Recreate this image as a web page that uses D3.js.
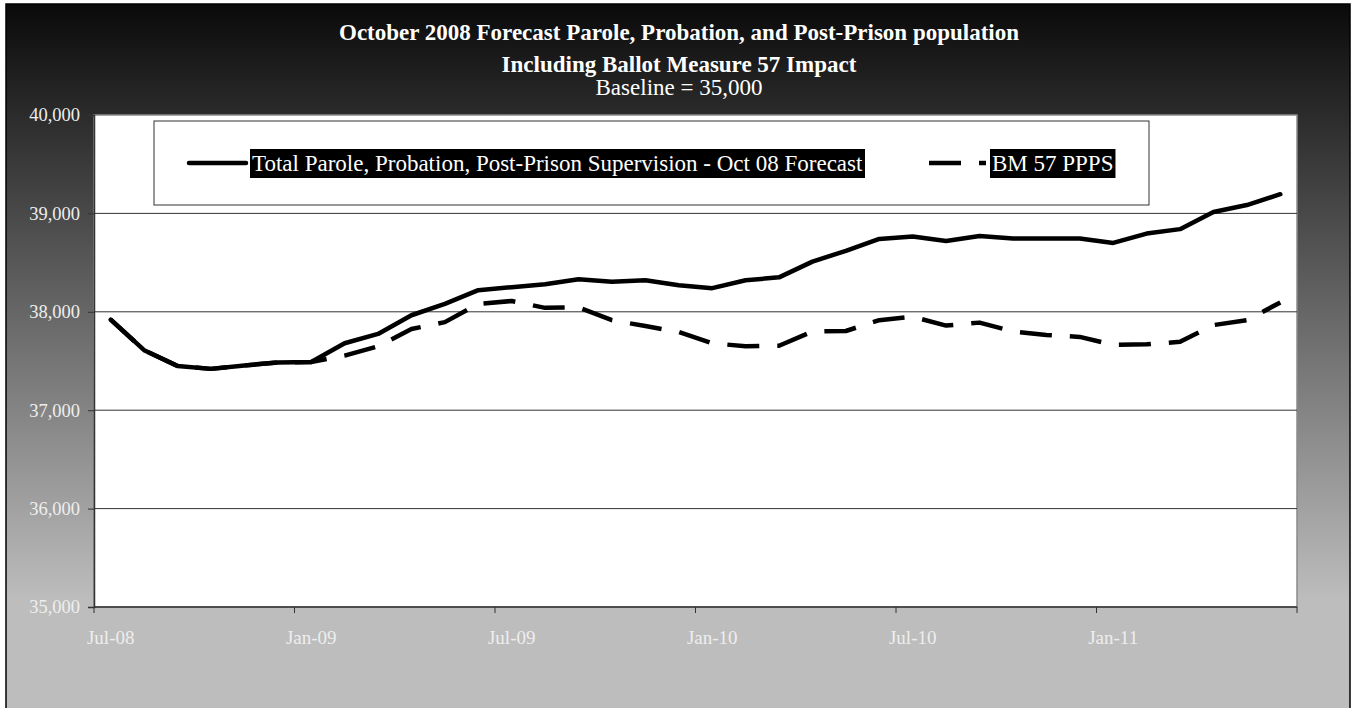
<!DOCTYPE html>
<html>
<head>
<meta charset="utf-8">
<script src="https://cdn.jsdelivr.net/npm/d3@7"></script>
<style>
  html, body { margin: 0; padding: 0; background: #ffffff; }
  svg { display: block; }
  svg text { font-family: "Liberation Serif", "Times New Roman", serif !important; }
</style>
</head>
<body>
<svg id="chart" width="1353" height="708"></svg>
<script>
// Monthly categories, Jul-08 through Jun-11
const months = [
  "Jul-08","Aug-08","Sep-08","Oct-08","Nov-08","Dec-08",
  "Jan-09","Feb-09","Mar-09","Apr-09","May-09","Jun-09",
  "Jul-09","Aug-09","Sep-09","Oct-09","Nov-09","Dec-09",
  "Jan-10","Feb-10","Mar-10","Apr-10","May-10","Jun-10",
  "Jul-10","Aug-10","Sep-10","Oct-10","Nov-10","Dec-10",
  "Jan-11","Feb-11","Mar-11","Apr-11","May-11","Jun-11"
];

// Total Parole, Probation, Post-Prison Supervision - Oct 08 Forecast
const totalForecast = [
  37920, 37610, 37450, 37420, 37455, 37485,
  37490, 37680, 37775, 37965, 38080, 38220,
  38250, 38280, 38330, 38305, 38320, 38270,
  38240, 38320, 38350, 38510, 38620, 38740,
  38765, 38720, 38770, 38745, 38745, 38745,
  38700, 38795, 38840, 39015, 39085, 39195
];

// BM 57 PPPS
const bm57 = [
  37920, 37610, 37450, 37420, 37455, 37485,
  37490, 37555, 37650, 37825, 37895, 38080,
  38110, 38040, 38045, 37915, 37855, 37795,
  37680, 37650, 37655, 37800, 37805, 37915,
  37950, 37860, 37890, 37800, 37765, 37745,
  37665, 37670, 37695, 37865, 37915, 38095
];

const yTicks = [35000, 36000, 37000, 38000, 39000, 40000];
const xLabelMonths = ["Jul-08","Jan-09","Jul-09","Jan-10","Jul-10","Jan-11"];
const xTickMonths = ["Jul-08","Jan-09","Jul-09","Jan-10","Jul-10","Jan-11"];

const titleLines = [
  "October 2008 Forecast Parole, Probation, and Post-Prison population",
  "Including Ballot Measure 57 Impact",
  "Baseline = 35,000"
];
const seriesNames = [
  "Total Parole, Probation, Post-Prison Supervision - Oct 08 Forecast",
  "BM 57 PPPS"
];

const FONT = '"Liberation Serif", "Times New Roman", serif';
const svg = d3.select("#chart");
const plot = { left: 94, right: 1297, top: 115, bottom: 607 };

// Background gradient panel
const defs = svg.append("defs");
const grad = defs.append("linearGradient")
  .attr("id", "bg").attr("x1", 0).attr("y1", 0).attr("x2", 0).attr("y2", 1);
grad.append("stop").attr("offset", "0%").attr("stop-color", "#0a0a0a");
grad.append("stop").attr("offset", "84%").attr("stop-color", "#bdbdbd");
grad.append("stop").attr("offset", "100%").attr("stop-color", "#bdbdbd");

svg.append("rect").attr("x", 6).attr("y", 4)
  .attr("width", 1344).attr("height", 710)
  .attr("fill", "url(#bg)").attr("stroke", "#000").attr("stroke-width", 1.5);

// Scales
const x = d3.scaleBand().domain(months).range([plot.left, plot.right]).padding(0);
const y = d3.scaleLinear().domain([35000, 40000]).range([plot.bottom, plot.top]);
const cx = m => x(m) + x.bandwidth() / 2;

// Plot area
svg.append("rect")
  .attr("x", plot.left).attr("y", plot.top)
  .attr("width", plot.right - plot.left).attr("height", plot.bottom - plot.top)
  .attr("fill", "#ffffff").attr("stroke", "#8a8a8a").attr("stroke-width", 1.5);

// Horizontal gridlines
svg.append("g").selectAll("line")
  .data(yTicks.filter(t => t > 35000 && t < 40000))
  .join("line")
  .attr("x1", plot.left).attr("x2", plot.right)
  .attr("y1", d => y(d)).attr("y2", d => y(d))
  .attr("stroke", "#333").attr("stroke-width", 1);

// Y axis
const yAxis = svg.append("g")
  .attr("transform", `translate(${plot.left},0)`)
  .attr("font-family", FONT)
  .call(d3.axisLeft(y).tickValues(yTicks).tickSize(6).tickPadding(8)
    .tickFormat(d3.format(",")));
yAxis.attr("font-family", FONT);
yAxis.select(".domain").attr("stroke", "#333").attr("stroke-width", 1.5);
yAxis.selectAll(".tick line").attr("stroke", "#333");
yAxis.selectAll(".tick text")
  .attr("fill", "#eeeeee").attr("font-size", 18.5);

// X axis: ticks on band boundaries every 6 months, labels centred on bands
const xg = svg.append("g").attr("font-family", FONT);
xg.append("line")
  .attr("x1", plot.left).attr("x2", plot.right)
  .attr("y1", plot.bottom).attr("y2", plot.bottom)
  .attr("stroke", "#333").attr("stroke-width", 1.5);
const tickXs = xTickMonths.map(m => x(m)).concat([plot.right]);
xg.selectAll("line.tick").data(tickXs).join("line")
  .attr("class", "tick")
  .attr("x1", d => d).attr("x2", d => d)
  .attr("y1", plot.bottom).attr("y2", plot.bottom + 6)
  .attr("stroke", "#333").attr("stroke-width", 1);
xg.selectAll("text").data(xLabelMonths).join("text")
  .attr("x", d => cx(d)).attr("y", 644)
  .attr("text-anchor", "middle")
  .attr("fill", "#eeeeee").attr("font-size", 19)
  .text(d => d);

// Lines
const line = d3.line().x((d, i) => cx(months[i])).y(d => y(d));
svg.append("path").datum(totalForecast)
  .attr("d", line).attr("fill", "none")
  .attr("stroke", "#000").attr("stroke-width", 4.5)
  .attr("stroke-linejoin", "round").attr("stroke-linecap", "round");
svg.append("path").datum(bm57)
  .attr("d", line).attr("fill", "none")
  .attr("stroke", "#000").attr("stroke-width", 4.5)
  .attr("stroke-dasharray", "32,18")
  .attr("stroke-linejoin", "round").attr("stroke-linecap", "butt");

// Legend
const lg = svg.append("g").attr("font-family", FONT);
lg.append("rect").attr("x", 154).attr("y", 121)
  .attr("width", 995).attr("height", 84)
  .attr("fill", "#fff").attr("stroke", "#333").attr("stroke-width", 1);

function legendItem(x0, dashed, label) {
  const g = lg.append("g");
  g.append("line").attr("x1", x0).attr("x2", x0 + 57)
    .attr("y1", 163).attr("y2", 163)
    .attr("stroke", "#000").attr("stroke-width", 4.5)
    .attr("stroke-linecap", dashed ? "butt" : "round")
    .attr("stroke-dasharray", dashed ? "32,18" : null);
  const bg = g.append("rect").attr("fill", "#000");
  const t = g.append("text").attr("x", x0 + 63).attr("y", 171)
    .attr("fill", "#fff").attr("font-size", 23).text(label);
  const bb = t.node().getBBox();
  bg.attr("x", bb.x - 2).attr("y", 149)
    .attr("width", bb.width + 4).attr("height", 29);
}
legendItem(189, false, seriesNames[0]);
legendItem(929, true, seriesNames[1]);

// Title
const tg = svg.append("g").attr("text-anchor", "middle").attr("fill", "#ffffff")
  .attr("font-family", FONT);
tg.append("text").attr("x", 679).attr("y", 40)
  .attr("font-size", 23).attr("font-weight", "bold").text(titleLines[0]);
tg.append("text").attr("x", 679).attr("y", 72)
  .attr("font-size", 23).attr("font-weight", "bold").text(titleLines[1]);
tg.append("text").attr("x", 679).attr("y", 95)
  .attr("font-size", 23).text(titleLines[2]);
</script>
</body>
</html>
